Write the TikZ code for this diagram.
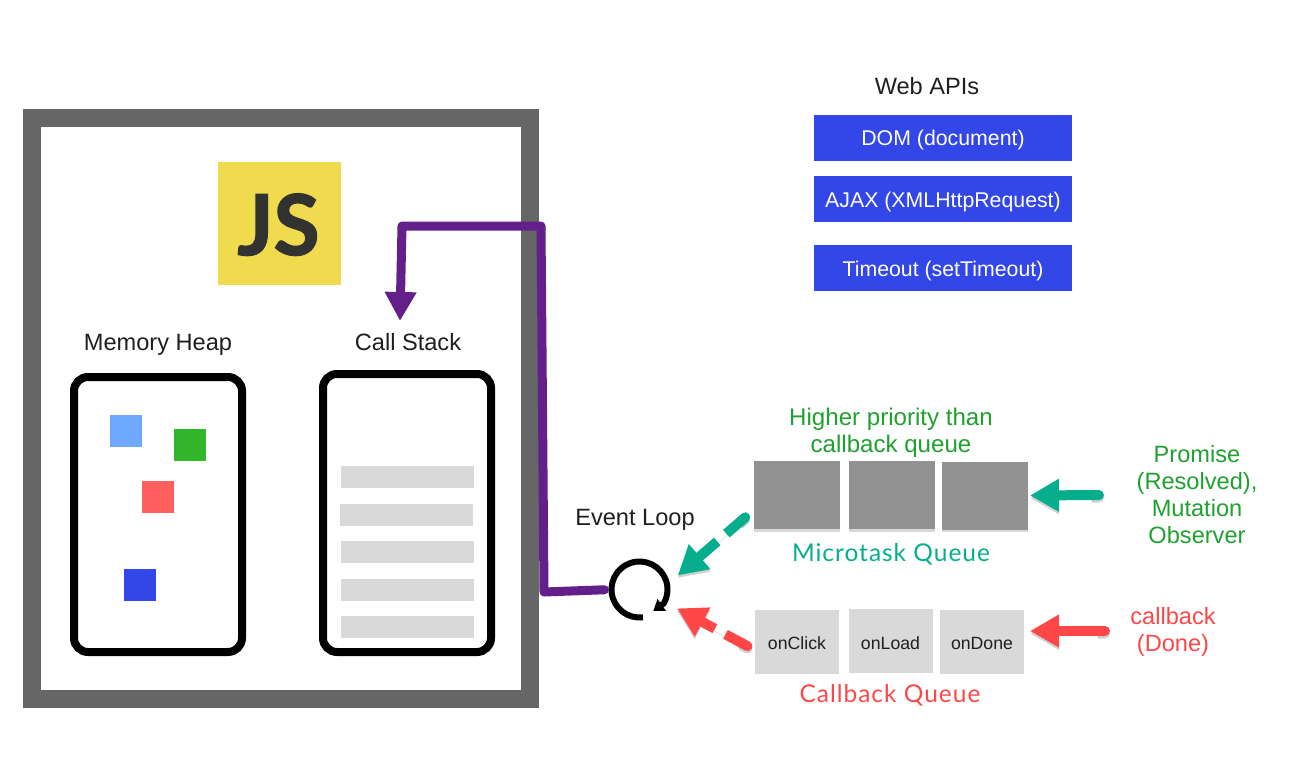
\documentclass[tikz,border=0pt]{standalone}
\usepackage{xcolor}
\usepackage{fontspec}
\setmainfont{Liberation Sans}
\newfontfamily\queuefont[LetterSpace=4]{Lato}
\newfontfamily\jsfont[BoldFeatures={FakeBold=1.6}]{Lato}
\usepackage{tikz}
\usetikzlibrary{arrows.meta,shadows}

\begin{document}
\begin{tikzpicture}[x=1pt,y=-1pt]
  % Colors
  \definecolor{frame}{HTML}{666666}
  \definecolor{jsyellow}{HTML}{F0DB4F}
  \definecolor{jsdark}{HTML}{323330}
  \definecolor{apiblue}{HTML}{3346E8}
  \definecolor{heapblue}{HTML}{6FA8FF}
  \definecolor{heapgreen}{HTML}{33B52B}
  \definecolor{heapred}{HTML}{FF5F5F}
  \definecolor{rowgray}{HTML}{D9D9D9}
  \definecolor{taskgray}{HTML}{929292}
  \definecolor{purple}{HTML}{64208A}
  \definecolor{teal}{HTML}{07AE8E}
  \definecolor{prio}{HTML}{1FA12F}
  \definecolor{alert}{HTML}{FF4747}
  % Styles
  \tikzstyle{every node}=[inner sep=0pt,outer sep=0pt,text=black!88]
  \tikzstyle{label text}=[font=\fontsize{23.6}{27}\selectfont]
  \tikzstyle{base text}=[label text,anchor=base]
  \tikzstyle{prio text}=[text=prio,align=center,font=\fontsize{24.1}{27}\selectfont]
  \tikzstyle{queue text}=[anchor=base,font=\queuefont\fontsize{24.5}{28}\selectfont]
  \tikzstyle{api box}=[fill=apiblue,minimum width=258pt,minimum height=46pt,text height=20pt,text depth=4pt,text=white,font=\fontsize{21.3}{25}\selectfont]
  \tikzstyle{micro box}=[fill=taskgray,minimum width=86pt,minimum height=68pt,drop shadow={shadow xshift=0pt,shadow yshift=-2.5pt,opacity=.3}]
  \tikzstyle{cb box}=[fill=rowgray,minimum width=84pt,minimum height=64pt,text height=15pt,font=\fontsize{17.7}{21}\selectfont]
  \tikzstyle{mem box}=[draw=black,line width=8pt,rounded corners=14pt]
  \tikzstyle{square}=[minimum size=32pt]
  \tikzstyle{stack row}=[fill=rowgray,minimum width=133pt,minimum height=22pt]
  \tikzstyle{call line}=[line width=9pt,line join=round,line cap=round,purple,-{Triangle[width=30pt,length=29pt]}]
  \tikzstyle{push line}=[line width=10pt,{Round Cap[]}-{Triangle[width=31pt,length=29pt]},preaction={draw=black,opacity=.18,transform canvas={yshift=-2.5pt}}]
  \tikzstyle{dash line}=[push line,dash pattern=on 20pt off 12pt on 40pt]

  \useasboundingbox (0,0) rectangle (1294,760);

  % The engine
  \draw[frame,line width=18pt] (32,118) rectangle (530,699);
  \node[fill=jsyellow,minimum size=123pt] (js) at (279.5,223.5) {};
  \node[anchor=base,text=jsdark,font=\jsfont\bfseries\fontsize{84}{84}\selectfont] (jstext) at (278.5,255) {JS};

  \node[base text] (heaplabel) at (158,350.5) {Memory Heap};
  \node[base text] (stacklabel) at (408,350.5) {Call Stack};
  \draw[mem box] (74,377) rectangle (242,652);
  \draw[mem box] (323,374) rectangle (491,652);

  \node[square,fill=heapblue] (s1) at (126,431) {};
  \node[square,fill=heapgreen] (s2) at (190,445) {};
  \node[square,fill=heapred] (s3) at (158,497) {};
  \node[square,fill=apiblue] (s4) at (140,585) {};

  \foreach \x/\y in {407.5/477,406.5/515,407.5/552,407.5/590,407.5/627}
    \node[stack row] at (\x,\y) {};

  % Web APIs
  \node[base text] (web) at (927,94.5) {Web APIs};
  \node[api box] (dom) at (943,138) {DOM (document)};
  \node[api box] (ajax) at (943,199) {AJAX (XMLHttpRequest)};
  \node[api box] (timeout) at (943,268) {Timeout (setTimeout)};

  % Queues
  \node[micro box] (mq1) at (797,495) {};
  \node[micro box] (mq2) at (892,495) {};
  \node[micro box] (mq3) at (985,495.5) {};
  \node[cb box] (cb1) at (797,642) {onClick};
  \node[cb box,text height=17pt] (cb2) at (890.5,641) {onLoad};
  \node[cb box] (cb3) at (982,642) {onDone};

  \node[prio text] (priority) at (891,432.5) {Higher priority than\\callback queue};
  \node[queue text,text=teal] (mqlabel) at (891,561) {Microtask Queue};
  \node[queue text,text=alert] (cblabel) at (890,702.5) {Callback Queue};
  \node[label text,text=prio,align=center] (promise) at (1197,494.5) {Promise\\(Resolved),\\Mutation\\Observer};
  \node[label text,text=alert,align=center] (done) at (1173,631.5) {callback\\(Done)};

  % Event loop
  \node[base text] (looplabel) at (635,525) {Event Loop};
  \node[circle,minimum size=56pt] (loop) at (639.5,589.5) {};
  \draw[line width=6pt,-{Triangle[width=14pt,length=10.5pt]}] (loop.277) arc[start angle=277,end angle=-30,radius=28pt] -- ++(-10.5,7.5);

  % Connectors
  \coordinate (stackin) at (400,321);
  \coordinate (promiseout) at (1104,495);
  \coordinate (doneout) at (1110,631);
  \draw[call line,shorten <=7pt] (loop.west) -- (544,592) -- (541,226) -- (402,226) -- (stackin);
  \draw[push line,teal,shorten >=2pt] (promiseout) -- (mq3.east);
  \draw[push line,alert,shorten >=6pt] (doneout) -- (cb3.east |- doneout);
  \draw[dash line,teal,shorten <=6.5pt,shorten >=14pt] (mq1.199) -- (loop.10);
  \draw[dash line,alert,shorten <=3.5pt,shorten >=14pt] (cb1.191) -- (loop.334);
\end{tikzpicture}
\end{document}
